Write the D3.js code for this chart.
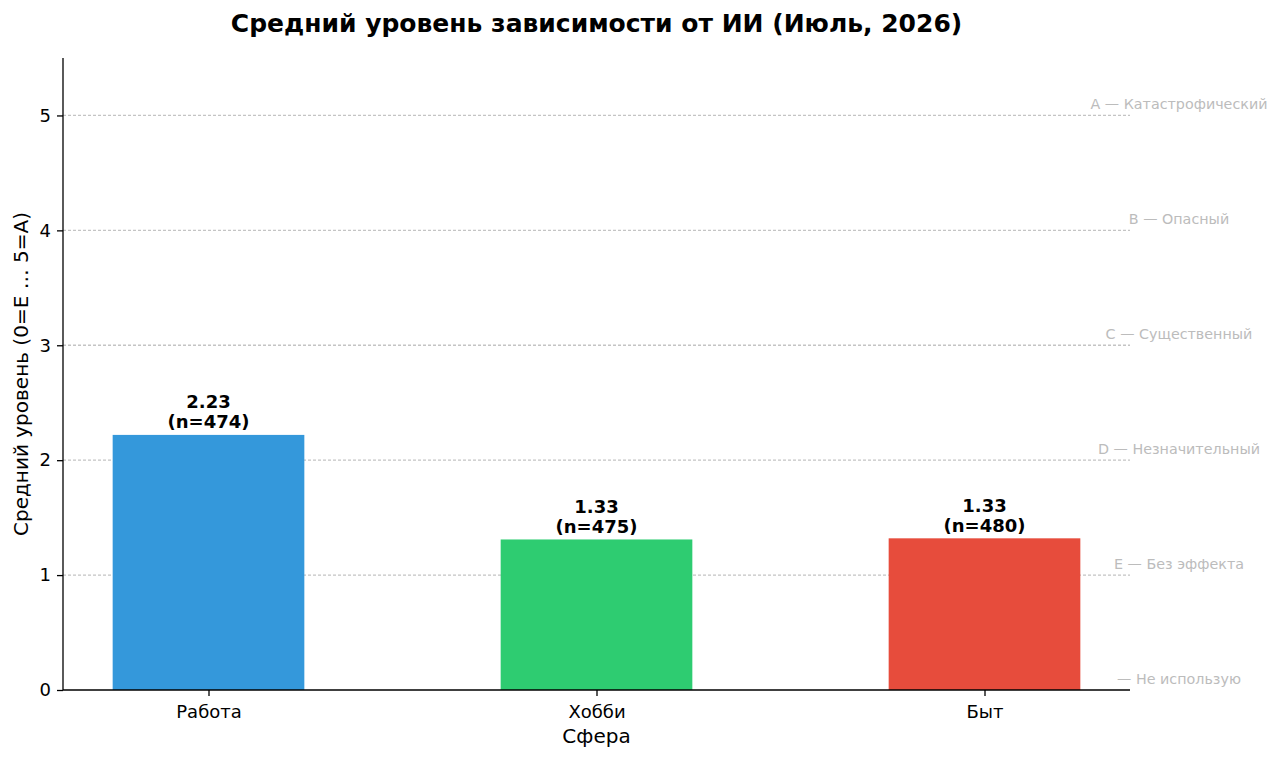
<!DOCTYPE html>
<html>
<head>
<meta charset="utf-8">
<script src="https://cdn.jsdelivr.net/npm/d3@7"></script>
<style>
  html, body { margin: 0; padding: 0; background: #fff; }
  svg { display: block; font-family: "DejaVu Sans", sans-serif; }
</style>
</head>
<body>
<svg id="chart" width="1280" height="760"></svg>
<script>
const categories = ["Работа", "Хобби", "Быт"];
const values = [2.22, 1.31, 1.32];
const valueLabels = ["2.23", "1.33", "1.33"];
const counts = [474, 475, 480];
const colors = ["#3498db", "#2ecc71", "#e74c3c"];
const yTicks = [0, 1, 2, 3, 4, 5];
const levelValues = [5, 4, 3, 2, 1, 0];
const levelLabels = ["A — Катастрофический", "B — Опасный", "C — Существенный", "D — Незначительный", "E — Без эффекта", "— Не использую"];

const svg = d3.select("#chart");
const m = { left: 63, right: 1130, top: 58, bottom: 690 };

const x = d3.scaleLinear().domain([-0.375, 2.375]).range([m.left, m.right]);
const y = d3.scaleLinear().domain([0, 5.5]).range([m.bottom, m.top]);
const barW = 0.494;

// grid lines
svg.append("g").selectAll("line").data(levelValues.filter(v => v > 0)).join("line")
  .attr("x1", m.left).attr("x2", m.right)
  .attr("y1", d => y(d)).attr("y2", d => y(d))
  .attr("stroke", "#c4c4c4").attr("stroke-width", 1.3)
  .attr("stroke-dasharray", "3,2");

// bars
svg.append("g").selectAll("rect").data(values).join("rect")
  .attr("x", (d, i) => x(i - barW / 2))
  .attr("width", x(barW) - x(0))
  .attr("y", d => y(d))
  .attr("height", d => y(0) - y(d))
  .attr("fill", (d, i) => colors[i]);

// bar labels
const lbl = svg.append("g").selectAll("text").data(values).join("text")
  .attr("x", (d, i) => x(i))
  .attr("text-anchor", "middle")
  .attr("font-size", 18).attr("font-weight", "bold").attr("fill", "#000");
lbl.append("tspan").attr("x", (d, i) => x(i)).attr("y", d => y(d) - 26.5).text((d, i) => valueLabels[i]);
lbl.append("tspan").attr("x", (d, i) => x(i)).attr("y", d => y(d) - 6.5).text((d, i) => `(n=${counts[i]})`);

// level labels on right
svg.append("g").selectAll("text").data(levelValues).join("text")
  .attr("x", 1179)
  .attr("y", d => y(d) - 6)
  .attr("text-anchor", "middle")
  .attr("font-size", 14.3).attr("fill", "#bcbcbc")
  .text((d, i) => levelLabels[i]);

// axes
const yAxis = d3.axisLeft(y).tickValues(yTicks).tickFormat(d3.format("d")).tickSize(6).tickPadding(6);
const gy = svg.append("g").attr("transform", `translate(${m.left},0)`).call(yAxis);
gy.select(".domain").attr("d", `M0,${m.top}V${m.bottom}`).attr("stroke", "#000").attr("stroke-width", 1.3);
gy.selectAll(".tick text").attr("font-size", 18).attr("fill", "#000").attr("font-family", "DejaVu Sans");
gy.selectAll(".tick line").attr("stroke", "#000").attr("stroke-width", 1.3);

const xAxis = d3.axisBottom(x).tickValues([0, 1, 2]).tickFormat(i => categories[i]).tickSize(6).tickPadding(9);
const gx = svg.append("g").attr("transform", `translate(0,${m.bottom})`).call(xAxis);
gx.select(".domain").attr("d", `M${m.left},0H${m.right}`).attr("stroke", "#000").attr("stroke-width", 1.3);
gx.selectAll(".tick text").attr("font-size", 18).attr("fill", "#000").attr("font-family", "DejaVu Sans");
gx.selectAll(".tick line").attr("stroke", "#000").attr("stroke-width", 1.3);

// axis titles
svg.append("text").attr("x", (m.left + m.right) / 2).attr("y", 743)
  .attr("text-anchor", "middle").attr("font-size", 20).attr("fill", "#000").text("Сфера");
svg.append("text")
  .attr("transform", `translate(28,${(m.top + m.bottom) / 2}) rotate(-90)`)
  .attr("text-anchor", "middle").attr("font-size", 20).attr("fill", "#000")
  .text("Средний уровень (0=E … 5=A)");

// title
svg.append("text").attr("x", (m.left + m.right) / 2).attr("y", 32)
  .attr("text-anchor", "middle").attr("font-size", 25).attr("font-weight", "bold").attr("fill", "#000")
  .text("Средний уровень зависимости от ИИ (Июль, 2026)");
</script>
</body>
</html>
